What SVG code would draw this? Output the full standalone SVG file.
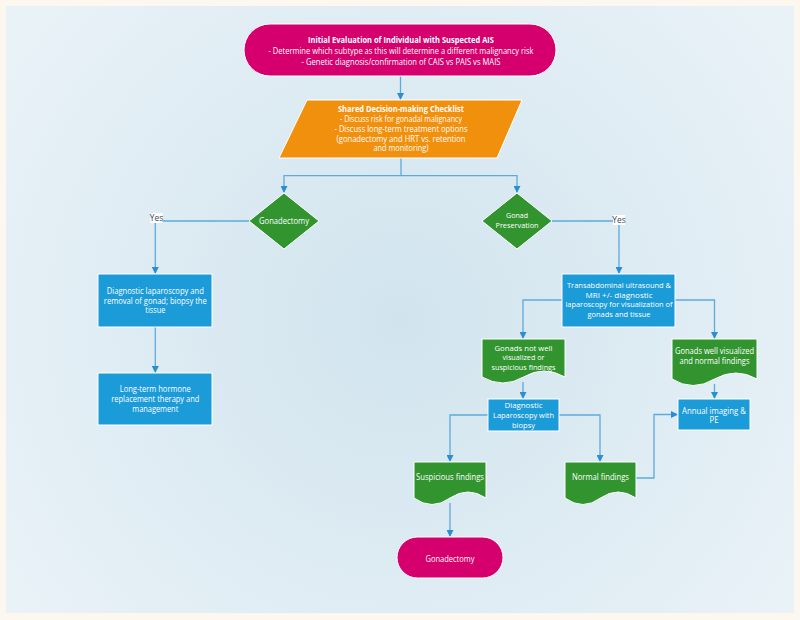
<svg xmlns="http://www.w3.org/2000/svg" width="800" height="620" viewBox="0 0 800 620">
<defs>
<radialGradient id="bg" cx="400" cy="320" r="480" gradientUnits="userSpaceOnUse">
<stop offset="0" stop-color="#d1e4ee"/>
<stop offset="1" stop-color="#e9f2f7"/>
</radialGradient>
<marker id="arr" markerWidth="7" markerHeight="7" refX="6" refY="3.5" orient="auto" markerUnits="userSpaceOnUse">
<path d="M0,0 L7,3.5 L0,7 z" fill="#2a8fd2"/>
</marker>
<style>
.t{font-family:"Open Sans","Noto Sans","Liberation Sans",sans-serif;font-size:8.4px;fill:#ffffff;text-anchor:middle}
.s{font-size:7.9px}
.b{font-weight:bold}
.y{font-family:"Open Sans","Noto Sans","Liberation Sans",sans-serif;font-size:8.4px;fill:#3d4b5a;text-anchor:middle}
.c{fill:none;stroke:#5eaadb;stroke-width:1.3}
.term{fill:#d5006d;stroke:#ffffff;stroke-width:1}
.para{fill:#f0900c;stroke:#ffffff;stroke-width:1}
.dia{fill:#31942f;stroke:#ffffff;stroke-width:1}
.doc{fill:#31942f;stroke:#ffffff;stroke-width:1}
.box{fill:#1b9bd8;stroke:#ffffff;stroke-width:1}
</style>
</defs>
<rect x="0" y="0" width="800" height="620" fill="#fcf8f0"/>
<rect x="6" y="6" width="788" height="607" fill="url(#bg)"/>

<g id="connectors">
<path class="c" d="M400.5,76 V99" marker-end="url(#arr)"/>
<path class="c" d="M401,158 V175.7 H284 V192" marker-end="url(#arr)"/>
<path class="c" d="M401,175.7 H517 V192" marker-end="url(#arr)"/>
<path class="c" d="M249,221 H155.3 V273" marker-end="url(#arr)"/>
<path class="c" d="M552,221 H619 V273" marker-end="url(#arr)"/>
<path class="c" d="M155.3,327 V372" marker-end="url(#arr)"/>
<path class="c" d="M562,300 H523 V338" marker-end="url(#arr)"/>
<path class="c" d="M675,300 H714.5 V338" marker-end="url(#arr)"/>
<path class="c" d="M523,382 V398" marker-end="url(#arr)"/>
<path class="c" d="M714.5,384 V398" marker-end="url(#arr)"/>
<path class="c" d="M488,415 H450 V461" marker-end="url(#arr)"/>
<path class="c" d="M559,415 H600 V461" marker-end="url(#arr)"/>
<path class="c" d="M636,478 H654 V414.5 H677" marker-end="url(#arr)"/>
<path class="c" d="M450,503 V536" marker-end="url(#arr)"/>
<rect x="150.5" y="213" width="12" height="10" fill="#ffffff"/>
<text class="y" x="156.5" y="221.3">Yes</text>
<rect x="613" y="215" width="12" height="10" fill="#ffffff"/>
<text class="y" x="619" y="223">Yes</text>
</g>

<g id="start">
<rect class="term" x="244" y="24" width="312" height="52" rx="26" ry="26"/>
<text class="t b" x="401" y="43" textLength="186" lengthAdjust="spacingAndGlyphs">Initial Evaluation of Individual with Suspected AIS</text>
<text class="t" x="401" y="54" textLength="265" lengthAdjust="spacingAndGlyphs">- Determine which subtype as this will determine a different malignancy risk</text>
<text class="t" x="401" y="64.5" textLength="199" lengthAdjust="spacingAndGlyphs">- Genetic diagnosis/confirmation of CAIS vs PAIS vs MAIS</text>
</g>

<g id="checklist">
<polygon class="para" points="307,100 522,100 497,158 279,158"/>
<text class="t b" x="401" y="112" textLength="126" lengthAdjust="spacingAndGlyphs">Shared Decision-making Checklist</text>
<text class="t" x="401" y="122" textLength="122" lengthAdjust="spacingAndGlyphs">- Discuss risk for gonadal malignancy</text>
<text class="t" x="401" y="132" textLength="133" lengthAdjust="spacingAndGlyphs">- Discuss long-term treatment options</text>
<text class="t" x="401" y="141.7" textLength="129" lengthAdjust="spacingAndGlyphs">(gonadectomy and HRT vs. retention</text>
<text class="t" x="401" y="151.3" textLength="55" lengthAdjust="spacingAndGlyphs">and monitoring)</text>
</g>

<g id="dec-gonadectomy">
<polygon class="dia" points="284,193 319,221 284,249 249,221"/>
<text class="t" x="284" y="224" textLength="50" lengthAdjust="spacingAndGlyphs">Gonadectomy</text>
</g>

<g id="dec-preservation">
<polygon class="dia" points="517,193 552,221 517,249 482,221"/>
<text class="t s" x="517" y="217.6" textLength="22" lengthAdjust="spacingAndGlyphs">Gonad</text>
<text class="t s" x="517" y="227.5" textLength="43" lengthAdjust="spacingAndGlyphs">Preservation</text>
</g>

<g id="lap-removal">
<rect class="box" x="98" y="274" width="114" height="53"/>
<text class="t" x="155.3" y="294" textLength="97" lengthAdjust="spacingAndGlyphs">Diagnostic laparoscopy and</text>
<text class="t" x="155.3" y="303.7" textLength="103" lengthAdjust="spacingAndGlyphs">removal of gonad; biopsy the</text>
<text class="t" x="155.3" y="313.3" textLength="20" lengthAdjust="spacingAndGlyphs">tissue</text>
</g>

<g id="hrt">
<rect class="box" x="98" y="373" width="114" height="52"/>
<text class="t" x="155.3" y="392.3" textLength="71" lengthAdjust="spacingAndGlyphs">Long-term hormone</text>
<text class="t" x="155.3" y="402.3" textLength="88" lengthAdjust="spacingAndGlyphs">replacement therapy and</text>
<text class="t" x="155.3" y="412" textLength="46" lengthAdjust="spacingAndGlyphs">management</text>
</g>

<g id="imaging">
<rect class="box" x="562" y="274" width="113" height="53"/>
<text class="t s" x="619" y="288.4" textLength="104" lengthAdjust="spacingAndGlyphs">Transabdominal ultrasound &amp;</text>
<text class="t s" x="619" y="297.9" textLength="67" lengthAdjust="spacingAndGlyphs">MRI +/- diagnostic</text>
<text class="t s" x="619" y="307.4" textLength="107" lengthAdjust="spacingAndGlyphs">laparoscopy for visualization of</text>
<text class="t s" x="619" y="317.3" textLength="63" lengthAdjust="spacingAndGlyphs">gonads and tissue</text>
</g>

<g id="not-well">
<path class="doc" d="M482,339 H565 V377 Q544,365 523.5,377 Q503,389 482,377 Z"/>
<text class="t s" x="523.5" y="350.5" textLength="58" lengthAdjust="spacingAndGlyphs">Gonads not well</text>
<text class="t s" x="523.5" y="360.3" textLength="42" lengthAdjust="spacingAndGlyphs">visualized or</text>
<text class="t s" x="523.5" y="370" textLength="64" lengthAdjust="spacingAndGlyphs">suspicious findings</text>
</g>

<g id="well">
<path class="doc" d="M672,339 H757 V379 Q736,367 714.5,379 Q693,392 672,379 Z"/>
<text class="t" x="714.5" y="354" textLength="79" lengthAdjust="spacingAndGlyphs">Gonads well visualized</text>
<text class="t" x="714.5" y="363.7" textLength="70" lengthAdjust="spacingAndGlyphs">and normal findings</text>
</g>

<g id="diag-lap">
<rect class="box" x="488" y="399" width="71" height="32"/>
<text class="t s" x="523.5" y="408.2" textLength="38" lengthAdjust="spacingAndGlyphs">Diagnostic</text>
<text class="t s" x="523.5" y="418.3" textLength="61" lengthAdjust="spacingAndGlyphs">Laparoscopy with</text>
<text class="t s" x="523.5" y="427.9" textLength="23" lengthAdjust="spacingAndGlyphs">biopsy</text>
</g>

<g id="annual">
<rect class="box" x="678" y="399" width="72" height="31"/>
<text class="t" x="714" y="413.7" textLength="64" lengthAdjust="spacingAndGlyphs">Annual imaging &amp;</text>
<text class="t" x="714" y="423.2" textLength="9" lengthAdjust="spacingAndGlyphs">PE</text>
</g>

<g id="suspicious">
<path class="doc" d="M414,462 H486 V498 Q468,486 450,498 Q432,511 414,498 Z"/>
<text class="t" x="450" y="480.3" textLength="68" lengthAdjust="spacingAndGlyphs">Suspicious findings</text>
</g>

<g id="normal">
<path class="doc" d="M565,462 H636 V498 Q618,486 600.5,498 Q583,511 565,498 Z"/>
<text class="t" x="600.5" y="480.3" textLength="57" lengthAdjust="spacingAndGlyphs">Normal findings</text>
</g>

<g id="end-gonadectomy">
<rect class="term" x="397" y="537" width="106" height="41" rx="20.5" ry="20.5"/>
<text class="t" x="450" y="562" textLength="49" lengthAdjust="spacingAndGlyphs">Gonadectomy</text>
</g>
</svg>
